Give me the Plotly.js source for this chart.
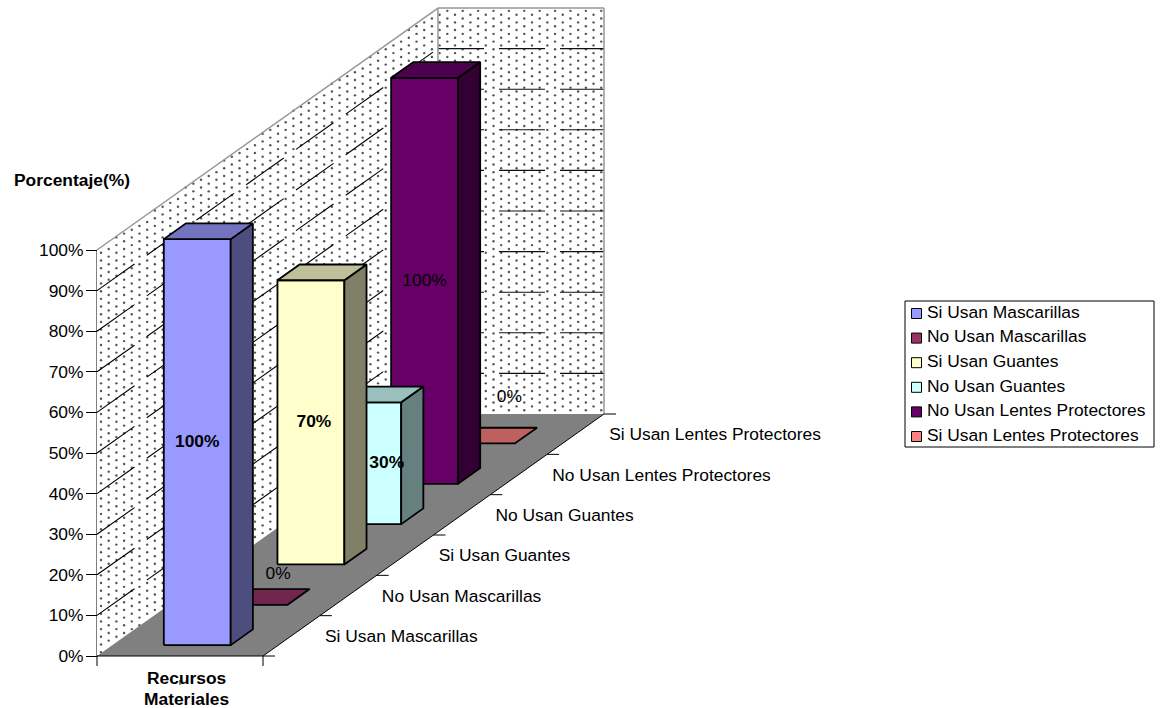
<!DOCTYPE html>
<html>
<head>
<meta charset="utf-8">
<style>html,body{margin:0;padding:0;background:#fff}#chart{width:1163px;height:708px}</style>
<script src="https://cdn.plot.ly/plotly-3.0.1.min.js"></script>
</head>
<body>
<div id="chart"></div>
<script>
// Survey results
const categories = ['Si Usan Mascarillas', 'No Usan Mascarillas', 'Si Usan Guantes', 'No Usan Guantes', 'No Usan Lentes Protectores', 'Si Usan Lentes Protectores'];
const percentages = [100, 0, 70, 30, 100, 0];
const percentTicks = [0, 10, 20, 30, 40, 50, 60, 70, 80, 90, 100];

// Face colours per series: front, side, top
const frontColors = ['#9999FF', '#993366', '#FFFFCC', '#CCFFFF', '#660066', '#FF8080'];
const sideColors = ['#4D4D80', '#4D1A33', '#808066', '#668080', '#330033', '#804040'];
const topColors = ['#7373BF', '#73264D', '#BFBF99', '#99BFBF', '#4D004D', '#BF6060'];
const boldLabels = [true, false, true, true, false, false];

// Oblique projection of the box: v across the front, u along the depth, p in percent
const W = 1163, H = 708;
const FONT = 'Liberation Sans', TEXT_SIZE = 17.4;
const origin = {x: 97, y: 656};
const widthPx = 166, depthDx = 56.83, depthDy = 40.33, pctPx = 4.06;
const project = (v, u, p) => [origin.x + widthPx * v + depthDx * u, origin.y - depthDy * u - pctPx * p];
const nCat = categories.length;

function poly(points, fill, line, lineWidth) {
  const pts = points.concat([points[0]]);
  return {
    x: pts.map(p => p[0]), y: pts.map(p => p[1]), xaxis: 'x', yaxis: 'y2',
    type: 'scatter', mode: line ? 'lines' : 'none', fill: 'toself', fillcolor: fill,
    line: {color: line || fill, width: lineWidth || 0, simplify: false}
  };
}
function segment(a, b, color, width, dash) {
  return {
    x: [a[0], b[0]], y: [a[1], b[1]], xaxis: 'x', yaxis: 'y2', type: 'scatter', mode: 'lines',
    line: {color, width, dash: dash || 'solid', simplify: false}
  };
}

const traces = [];

// Vertical axis line, tied to the percent scale
traces.push({x: [origin.x, origin.x], y: [0, 100], xaxis: 'x', yaxis: 'y', type: 'scatter', mode: 'lines',
  line: {color: '#000000', width: 1}, cliponaxis: false});

// Walls
traces.push(poly([project(0, 0, 0), project(0, 0, 100), project(0, nCat, 100), project(0, nCat, 0)], '#FFFFFF'));
traces.push(poly([project(0, nCat, 0), project(0, nCat, 100), project(1, nCat, 100), project(1, nCat, 0)], '#FFFFFF'));

// Stippled wall texture on a staggered lattice
const dotX = [], dotY = [];
const wallBack = project(0, nCat, 0)[0], wallRight = project(1, nCat, 0)[0];
for (let r = 0; r < 172; r++) {
  const yy = 3.18 + r * 3.84;
  for (let c = -1; c < 45; c++) {
    const xx = 101 + c * 15.392 + (r % 2 ? 0 : 7.696);
    if (xx < origin.x + 1 || xx > wallRight + 1) continue;
    const run = Math.min(xx, wallBack) - origin.x;
    const slope = depthDy / depthDx;
    const topY = origin.y - 100 * pctPx - run * slope;
    const botY = origin.y - run * slope;
    if (yy > topY && yy < botY) { dotX.push(xx); dotY.push(yy); }
  }
}
traces.push({x: dotX, y: dotY, xaxis: 'x', yaxis: 'y2', type: 'scatter', mode: 'markers',
  marker: {size: 2.4, color: '#555555', line: {width: 0}}});

// Floor
traces.push(poly([project(0, 0, 0), project(1, 0, 0), project(1, nCat, 0), project(0, nCat, 0)], '#808080'));

// Gridlines on both walls
percentTicks.slice(1, -1).forEach(p => {
  traces.push(segment(project(0, 0, p), project(0, nCat, p), '#000000', 1.1, '46px,15px'));
  traces.push(segment(project(0, nCat, p), project(1, nCat, p), '#111111', 1.1, '46px,15px'));
});
traces.push(segment(project(0, 0, 100), project(0, nCat, 100), '#969696', 1.5));
traces.push(segment(project(0, nCat, 0), project(0, nCat, 100), '#969696', 1.5));
traces.push(segment(project(0, nCat, 100), project(1, nCat, 100), '#969696', 1.5));
traces.push(segment(project(1, nCat, 100), project(1, nCat, 0), '#969696', 1.5));

// Box edges and tick marks on the floor
traces.push(segment(project(0, 0, 0), project(1, 0, 0), '#000000', 1));
traces.push(segment(project(1, 0, 0), project(1, nCat, 0), '#000000', 1));
traces.push(segment(project(0, 0, 0), [origin.x, origin.y + 10], '#000000', 1));
traces.push(segment(project(1, 0, 0), [origin.x + widthPx, origin.y + 10], '#000000', 1));
for (let i = 0; i <= nCat; i++) {
  const a = project(1, i, 0);
  traces.push(segment(a, [a[0] + 12, a[1]], '#000000', 1));
}
traces.push(segment([origin.x + widthPx / 2, origin.y + 24], [origin.x + widthPx / 2, origin.y + 29], '#000000', 1));

// Bars, painted from the back row to the front row
const barU = 0.27, barDepth = 0.39, barV = 0.31, barWidth = 0.403;
for (let i = nCat - 1; i >= 0; i--) {
  const u0 = i + barU, u1 = u0 + barDepth, v0 = barV, v1 = barV + barWidth, p = percentages[i];
  if (p > 0) {
    traces.push(poly([project(v0, u0, 0), project(v1, u0, 0), project(v1, u0, p), project(v0, u0, p)], frontColors[i], '#000000', 1.8));
    traces.push(poly([project(v1, u0, 0), project(v1, u1, 0), project(v1, u1, p), project(v1, u0, p)], sideColors[i], '#000000', 1.8));
  }
  traces.push(poly([project(v0, u0, p), project(v1, u0, p), project(v1, u1, p), project(v0, u1, p)], topColors[i], '#000000', 1.8));
}

// Value labels, centred on each bar's front face
const labelNudge = [[0, 1], [24, -30], [3, 0], [19, 0], [0, 1], [28, -46]];
categories.forEach((c, i) => {
  const centre = project(barV + barWidth / 2, i + barU, percentages[i] / 2);
  traces.push({
    x: [centre[0] + labelNudge[i][0]], y: [centre[1] + labelNudge[i][1]], xaxis: 'x', yaxis: 'y2',
    type: 'scatter', mode: 'text', text: [percentages[i] + '%'], textposition: 'middle center',
    textfont: {family: FONT, size: TEXT_SIZE, color: '#000000', weight: boldLabels[i] ? 700 : 400}
  });
});

// Category names along the depth axis
traces.push({
  x: categories.map((c, i) => project(1, i, 0)[0] + 62), y: categories.map((c, i) => project(1, i, 0)[1] - 18.5),
  xaxis: 'x', yaxis: 'y2', type: 'scatter', mode: 'text', text: categories, textposition: 'middle right',
  textfont: {family: FONT, size: TEXT_SIZE, color: '#000000'}
});

// Series key
const keyLeft = 916.5, keyTop = 313.5, keyStep = 24.6;
traces.push(poly([[905, 301], [1154, 301], [1154, 447], [905, 447]], '#FFFFFF', '#000000', 1));
traces.push({
  x: categories.map(() => keyLeft), y: categories.map((c, i) => keyTop + i * keyStep), xaxis: 'x', yaxis: 'y2',
  type: 'scatter', mode: 'markers', marker: {symbol: 'square', size: 10, color: frontColors, line: {color: '#000000', width: 1}}
});
traces.push({
  x: categories.map(() => keyLeft + 10.5), y: categories.map((c, i) => keyTop + i * keyStep), xaxis: 'x', yaxis: 'y2',
  type: 'scatter', mode: 'text', text: categories, textposition: 'middle right',
  textfont: {family: FONT, size: TEXT_SIZE, color: '#000000'}
});

const layout = {
  width: W, height: H, margin: {l: 0, r: 0, t: 0, b: 0},
  paper_bgcolor: '#FFFFFF', plot_bgcolor: 'rgba(0,0,0,0)', showlegend: false, hovermode: false,
  xaxis: {domain: [0, 1], range: [0, W], visible: false, fixedrange: true},
  yaxis2: {domain: [0, 1], range: [H, 0], visible: false, anchor: 'x', fixedrange: true},
  yaxis: {
    domain: [(H - origin.y) / H, (H - origin.y + 100 * pctPx) / H], range: [0, 100], anchor: 'free', position: origin.x / W,
    side: 'left', showgrid: false, zeroline: false, showline: true, linecolor: '#000000', linewidth: 1,
    tickmode: 'array', tickvals: percentTicks, ticktext: percentTicks.map(t => t + '%'), ticks: 'outside', ticklen: 11,
    ticklabelstandoff: -1, tickcolor: '#000000', tickfont: {family: FONT, size: TEXT_SIZE, color: '#000000'}, fixedrange: true
  },
  annotations: [
    {text: '<b>Porcentaje(%)</b>', x: 12, y: 180, xref: 'x', yref: 'y2', xanchor: 'left', yanchor: 'middle', showarrow: false,
      font: {family: FONT, size: TEXT_SIZE, color: '#000000'}},
    {text: '<b>Recursos</b>', x: 186, y: 678, xref: 'x', yref: 'y2', xanchor: 'center', yanchor: 'middle', showarrow: false,
      font: {family: FONT, size: TEXT_SIZE, color: '#000000'}},
    {text: '<b>Materiales</b>', x: 186, y: 699, xref: 'x', yref: 'y2', xanchor: 'center', yanchor: 'middle', showarrow: false,
      font: {family: FONT, size: TEXT_SIZE, color: '#000000'}}
  ]
};

Plotly.newPlot('chart', traces, layout, {displayModeBar: false, staticPlot: true});
</script>
</body>
</html>
